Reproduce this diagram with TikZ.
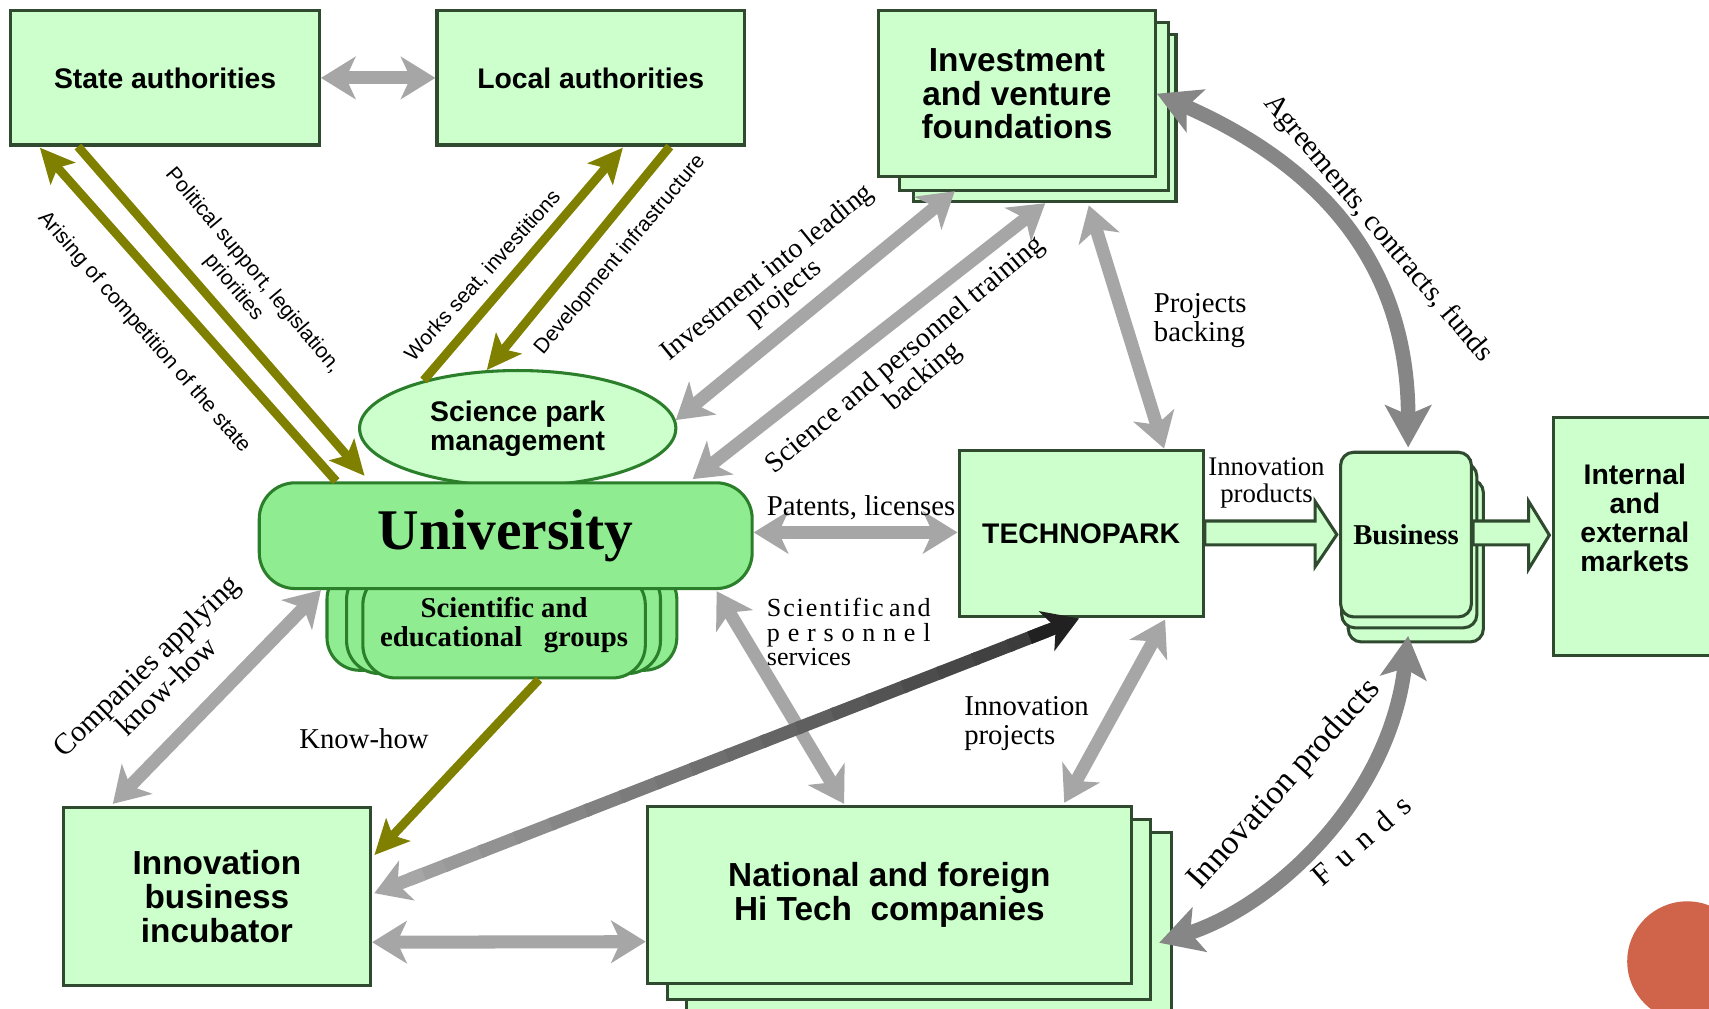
\documentclass[tikz,border=0pt]{standalone}
\usepackage{fontspec}
\setmainfont{Liberation Serif}
\setsansfont{Liberation Sans}
\usetikzlibrary{arrows.meta,calc,shapes.geometric}
\definecolor{boxfill}{HTML}{CCFFCC}
\definecolor{boxline}{HTML}{2F4A2F}
\definecolor{unifill}{HTML}{90EC90}
\definecolor{uniline}{HTML}{2B7F2B}
\definecolor{arrolive}{HTML}{808000}
\definecolor{arrgray}{HTML}{A6A6A6}
\definecolor{arrdark}{HTML}{868686}
\definecolor{dotred}{HTML}{D0644A}
\tikzset{
  box/.style={draw=boxline, line width=0.8pt, fill=boxfill, inner sep=0pt, align=center},
  copybox/.style={draw=boxline, line width=0.8pt, fill=boxfill},
  grp/.style={draw=uniline, line width=0.8pt, fill=unifill, rounded corners=0.3cm},
  blk/.style={draw=boxline, line width=0.8pt, fill=boxfill},
  sansA/.style={font=\sffamily\bfseries\fontsize{7.4}{7.6}\selectfont},
  sansB/.style={font=\sffamily\bfseries\fontsize{8.7}{8.8}\selectfont},
  serifB/.style={font=\bfseries\fontsize{7.5}{7.7}\selectfont},
  lab/.style={font=\fontsize{7.5}{7.5}\selectfont, align=center, inner sep=0pt},
  olab/.style={font=\sffamily\fontsize{5.5}{6.6}\selectfont, align=center, inner sep=0pt},
  tipG/.tip={Stealth[length=9pt,width=11pt,inset=2.5pt]},
  tipO/.tip={Stealth[length=9pt,width=8.5pt,inset=2pt]},
  tipC/.tip={Stealth[length=11pt,width=12pt,inset=2.5pt]},
  gar/.style={draw=arrgray, line width=3.4pt, tipG-tipG},
  oar/.style={draw=arrolive, line width=2.3pt, -tipO},
  cgar/.style={draw=arrdark, line width=3.8pt, tipC-tipC},
}
\begin{document}
\begin{tikzpicture}[x=0.01cm,y=-0.01cm]
\fill[white] (0,0) rectangle (1568,925);
\useasboundingbox (0,0) rectangle (1568,925);

% decoration circle
\fill[dotred] (1548,882) circle [radius=0.55cm];

% ---- boxes ----
\node[box, sansA, minimum width=2.83cm, minimum height=1.23cm] (state) at (151.5,71.5) {State authorities};
\node[box, sansA, minimum width=2.82cm, minimum height=1.23cm] (local) at (542,71.5) {Local authorities};

\draw[copybox] (838,32) rectangle (1079,185);
\draw[copybox] (825,21) rectangle (1072,175);
\node[box, sansB, minimum width=2.54cm, minimum height=1.52cm] (invest) at (933,86) {Investment\\and venture\\foundations};

\node[draw=uniline, line width=0.8pt, fill=boxfill, ellipse, minimum width=2.90cm, minimum height=1.06cm, inner sep=0pt, sansA, align=center] (spm) at (475,393) {Science park\\management};

\draw[grp] (300,520) rectangle (621,615);
\draw[grp] (318,520) rectangle (606,618);
\node[draw=uniline, line width=0.8pt, fill=unifill, rounded corners=0.3cm, minimum width=2.59cm, minimum height=0.97cm, serifB, align=center, inner sep=0pt] (groups) at (462.5,573.5) {Scientific and\\educational\ \ \ groups};

\node[draw=uniline, line width=0.8pt, fill=unifill, rounded corners=0.33cm, minimum width=4.52cm, minimum height=0.97cm, font=\bfseries\fontsize{15}{16}\selectfont, inner sep=0pt] (univ) at (464,491.5) {University};

\node[box, sansA, minimum width=2.24cm, minimum height=1.53cm] (techno) at (992,489.5) {TECHNOPARK};

\draw[copybox, rounded corners=0.12cm] (1237,440) rectangle (1361,589);
\draw[copybox, rounded corners=0.12cm] (1231,425) rectangle (1355,576);
\node[box, serifB, rounded corners=0.12cm, minimum width=1.20cm, minimum height=1.51cm] (business) at (1290,490.5) {Business};

\node[box, minimum width=1.55cm, minimum height=2.18cm] (markets) at (1502.5,492) {};
\node[sansA, align=center, inner sep=0pt] (marketstext) at (1500,475) {Internal\\and\\external\\markets};

\draw[copybox] (630,764) rectangle (1075,935);
\draw[copybox] (612,752) rectangle (1056,917);
\node[box, sansB, minimum width=4.44cm, minimum height=1.62cm] (national) at (816,821) {National and foreign\\Hi Tech\ \ companies};

\node[box, sansB, minimum width=2.82cm, minimum height=1.63cm] (incubator) at (199,822.5) {Innovation\\business\\incubator};

% ---- block arrows ----
\draw[blk] ($(techno.east)+(0,-11.5)$) -- ($(business.west)+(-22,-12.5)$) -- ($(business.west)+(-22,-30.5)$) -- ($(business.west)+(-2,0)$) -- ($(business.west)+(-22,29.5)$) -- ($(business.west)+(-22,9.5)$) -- ($(techno.east)+(0,10.5)$) -- cycle;
\draw[blk] ($(business.east)+(0,-12.5)$) -- ($(markets.west)+(-21,-14)$) -- ($(markets.west)+(-21,-32)$) -- ($(markets.west)+(-2,-1)$) -- ($(markets.west)+(-21,30)$) -- ($(markets.west)+(-21,8)$) -- ($(business.east)+(0,9.5)$) -- cycle;

% ---- connectors ----
\draw[gar] (state.east) -- (local.west);

\draw[oar] ($(univ.north west)+(72,0)$) -- ($(state.south west)+(28,1)$);
\draw[oar] ($(state.south west)+(63,0)$) -- ($(univ.north west)+(98,-5)$);
\draw[oar] (spm.153) -- ($(local.south west)+(172,1)$);
\draw[oar] ($(local.south west)+(215,0)$) -- (spm.118);

\draw[gar] (spm.3) -- ($(invest.south)+(-57,12)$);
\draw[gar] ($(univ.north east)+(-56,-2)$) -- ($(invest.south)+(26,23)$);
\draw[gar] ($(invest.south)+(66,25)$) -- ($(techno.north)+(76,0)$);

\draw[cgar] (invest.east) .. controls ($(invest.east)+(168,74)$) and ($(business.north)+(2,-155)$) .. ($(business.north)+(2,-3)$);
\draw[cgar] ($(business.south)+(2,16)$) .. controls ($(business.south)+(-15,164)$) and ($(national.east)+(132,9)$) .. ($(national.east)+(24,44)$);

\draw[gar] ($(univ.east)+(0,-3)$) -- ($(techno.west)+(0,-1)$);
\draw[gar] ($(univ.south east)+(-34,1)$) -- ($(national.north west)+(182,-1)$);
\draw[gar] ($(techno.south)+(77,1)$) -- ($(national.north west)+(384,-2)$);
\draw[gar] ($(univ.south west)+(58,0)$) -- ($(incubator.north west)+(47,-2)$);
\draw[oar] ($(groups.south)+(32,0)$) -- ($(incubator.north east)+(2,45)$);
\draw[gar] ($(incubator.east)+(0,42)$) -- ($(national.west)+(0,43)$);

% gradient arrow incubator <-> technopark
\coordinate (gA) at ($(incubator.east)+(2,-3)$);
\coordinate (gB) at ($(techno.south)+(-2,0)$);
\foreach \i in {0,...,17} {
  \pgfmathsetmacro{\ta}{0.05+\i*0.05}
  \pgfmathsetmacro{\tb}{\ta+0.056}
  \pgfmathtruncatemacro{\p}{5+\i*3.5}
  \draw[line width=3.4pt, draw=black!\p!arrgray] ($(gA)!\ta!(gB)$) -- ($(gA)!\tb!(gB)$);
}
\draw[line width=3.4pt, draw=arrgray, -tipG] ($(gA)!0.07!(gB)$) -- (gA);
\draw[line width=3.4pt, draw=black!80!arrgray, -tipG] ($(gA)!0.93!(gB)$) -- (gB);

% ---- labels ----
\node[olab, rotate=-49] (lArising) at (132,305) {Arising of competition of the state};
\node[olab, rotate=-50] (lPolitical) at (223,256) {Political support, legislation,\\priorities};
\node[olab, rotate=48] (lWorks) at (443,253) {Works seat, investitions};
\node[olab, rotate=50] (lDev) at (569,234) {Development infrastructure};
\node[lab, rotate=39, font=\fontsize{7.3}{6.8}\selectfont] (lInvest) at (712,260) {Investment into leading\\projects};
\node[lab, rotate=40, font=\fontsize{7.5}{7.4}\selectfont] (lScience) at (839,336) {Science and personnel training\\backing};
\node[lab, align=left, anchor=west] (lProj) at (1058,294) {Projects\\backing};
\node[lab, rotate=-50, font=\fontsize{7.6}{7.6}\selectfont] (lAgree) at (1264,210) {Agreements, contracts, funds};
\node[lab] (lPat) at (790,466) {Patents, licenses};
\node[lab, font=\fontsize{7}{6.9}\selectfont] (lInnovP) at (1162,443) {Innovation\\products};
\node[lab, align=left, anchor=west, font=\fontsize{6.8}{6.4}\selectfont] (lSci) at (703,580) {\hbox to 1.5cm{S\hfil c\hfil i\hfil e\hfil n\hfil t\hfil i\hfil f\hfil i\hfil c\hfil\hfil\hfil a\hfil n\hfil d}\\\hbox to 1.5cm{p\hfil e\hfil r\hfil s\hfil o\hfil n\hfil n\hfil e\hfil l}\\services};
\node[lab, align=left, anchor=west, font=\fontsize{7.5}{7.7}\selectfont] (lInnProj) at (884,664) {Innovation\\projects};
\node[lab] (lKnow) at (334,678) {Know-how};
\node[lab, rotate=44, font=\fontsize{7.8}{7.6}\selectfont] (lComp) at (143,620) {Companies applying\\know-how};
\node[lab, rotate=48, font=\fontsize{8.8}{9}\selectfont] (lInnovCurve) at (1179,720) {Innovation products};
\node[lab, rotate=41, font=\fontsize{8}{9}\selectfont] (lFunds) at (1249,771) {\hbox to 1.1cm{F\hfil u\hfil n\hfil d\hfil s}};
\end{tikzpicture}
\end{document}
